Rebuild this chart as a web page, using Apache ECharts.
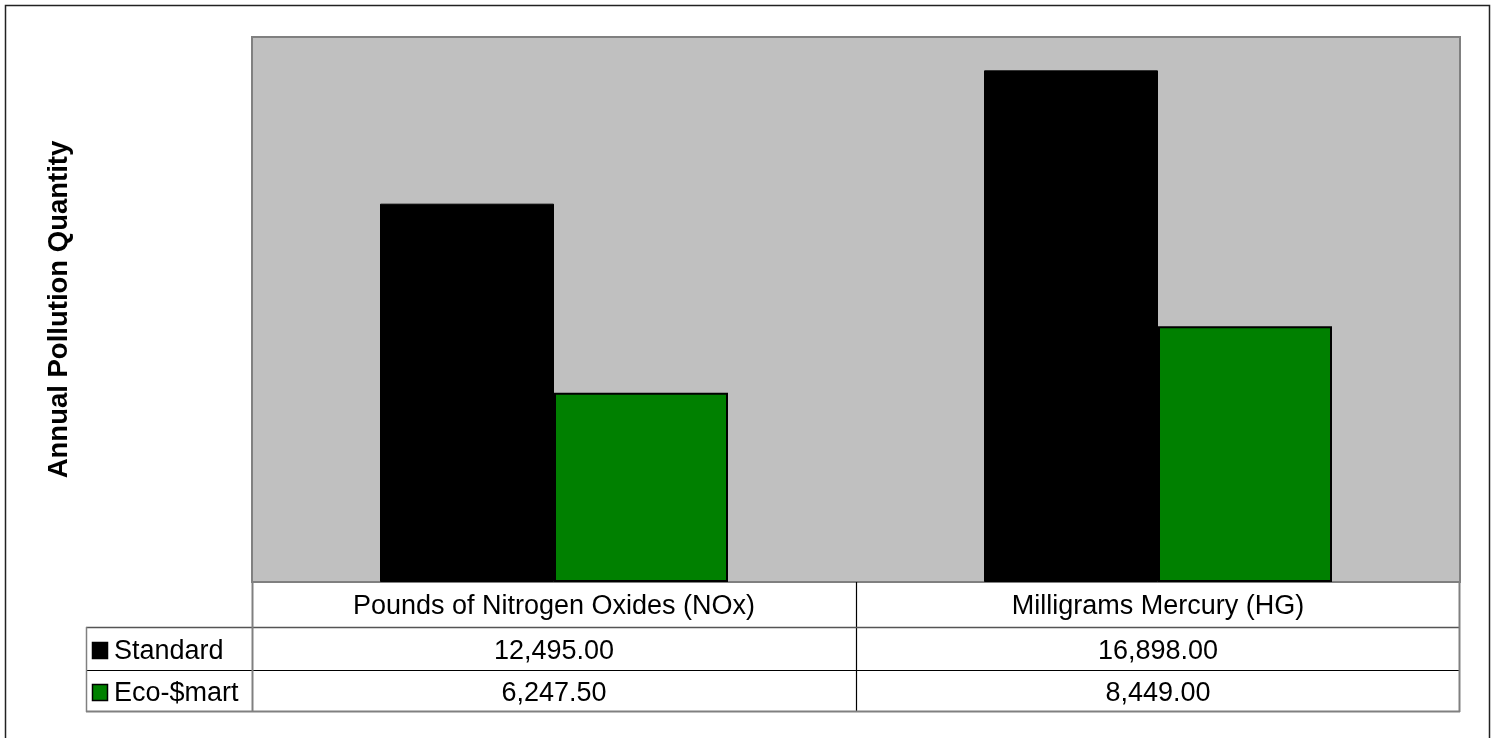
<!DOCTYPE html>
<html>
<head>
<meta charset="utf-8">
<script src="https://cdn.jsdelivr.net/npm/echarts@6/dist/echarts.min.js"></script>
<style>
html,body{margin:0;padding:0;background:#fff;}
#chart{width:1496px;height:738px;}
</style>
</head>
<body>
<div id="chart"></div>
<script>
const categories = ['Pounds of Nitrogen Oxides (NOx)', 'Milligrams Mercury (HG)'];
const seriesNames = ['Standard', 'Eco-$mart'];
const standardValues = [12495.00, 16898.00];
const ecoValues = [6247.50, 8449.00];
const seriesColors = ['#000000', '#008000'];
const yMin = 0, yMax = 18000;

const FONT = "'Liberation Sans', Arial, sans-serif";
const G = {left: 252, top: 37, width: 1208, height: 545};
const rowH = [45, 43, 41];
const legendLeft = 86;

const chart = echarts.init(document.getElementById('chart'));

function fmt(v){ return v.toLocaleString('en-US', {minimumFractionDigits: 2, maximumFractionDigits: 2}); }

function buildGraphic(){
  const g = [];
  const gx0 = G.left, gx1 = G.left + G.width;
  const y0 = G.top + G.height;
  const y1 = y0 + rowH[0], y2 = y1 + rowH[1], y3 = y2 + rowH[2];
  const colW = G.width / categories.length;
  g.push({type:'rect', shape:{x:5.5, y:5.5, width:1484, height:800}, style:{fill:'none', stroke:'#222', lineWidth:1.5}, silent:true, z:0});
  for (let i = 1; i < categories.length; i++) {
    const x = Math.round(gx0 + colW * i) + 0.5;
    g.push({type:'line', shape:{x1:x, y1:y0, x2:x, y2:y3}, style:{stroke:'#000', lineWidth:1.2}, z:5});
  }
  g.push({type:'line', shape:{x1:legendLeft, y1:y1+0.5, x2:gx1, y2:y1+0.5}, style:{stroke:'#555', lineWidth:1.5}, z:5});
  g.push({type:'line', shape:{x1:legendLeft, y1:y2+0.5, x2:gx1, y2:y2+0.5}, style:{stroke:'#000', lineWidth:1.2}, z:5});
  g.push({type:'line', shape:{x1:legendLeft, y1:y3+0.5, x2:gx1, y2:y3+0.5}, style:{stroke:'#808080', lineWidth:2}, z:5});
  g.push({type:'line', shape:{x1:gx0+0.5, y1:y0, x2:gx0+0.5, y2:y3+1}, style:{stroke:'#808080', lineWidth:2}, z:5});
  g.push({type:'line', shape:{x1:gx1-0.5, y1:y0, x2:gx1-0.5, y2:y3+1}, style:{stroke:'#808080', lineWidth:2}, z:5});
  g.push({type:'line', shape:{x1:legendLeft+0.5, y1:y1, x2:legendLeft+0.5, y2:y3+1}, style:{stroke:'#808080', lineWidth:1.5}, z:5});
  categories.forEach((c, i) => {
    g.push({type:'text', x: gx0 + colW*(i+0.5), y: (y0+y1)/2 + 2,
      style:{text:c, fontFamily:FONT, fontSize:27, fill:'#000', align:'center', verticalAlign:'middle'}, z:6});
  });
  const rows = [standardValues, ecoValues];
  const rowTops = [y1, y2];
  const rowBots = [y2, y3];
  rows.forEach((vals, r) => {
    const cy = (rowTops[r] + rowBots[r]) / 2 + 3;
    vals.forEach((v, i) => {
      g.push({type:'text', x: gx0 + colW*(i+0.5), y: cy,
        style:{text:fmt(v), fontFamily:FONT, fontSize:27, fill:'#000', align:'center', verticalAlign:'middle'}, z:6});
    });
    g.push({type:'rect', shape:{x:92.5, y:cy-9, width:15, height:16},
      style:{fill:seriesColors[r], stroke:'#000', lineWidth:1.5}, z:6});
    g.push({type:'text', x:114, y:cy,
      style:{text:seriesNames[r], fontFamily:FONT, fontSize:27, fill:'#000', align:'left', verticalAlign:'middle'}, z:6});
  });
  g.push({type:'text', x:59, y: G.top + G.height/2, rotation: Math.PI/2,
    style:{text:'Annual Pollution Quantity', fontFamily:FONT, fontSize:27.5, fontWeight:'bold', fill:'#000', align:'center', verticalAlign:'middle'}, z:6});
  return g;
}

chart.setOption({
  animation: false,
  backgroundColor: '#fff',
  grid: {left: G.left, top: G.top, width: G.width, height: G.height, show: true,
    backgroundColor: '#C0C0C0', borderColor: '#808080', borderWidth: 2},
  xAxis: {type:'category', data: categories, axisLabel:{show:false}, axisTick:{show:false}, axisLine:{show:false}},
  yAxis: {type:'value', min: yMin, max: yMax, axisLabel:{show:false}, axisTick:{show:false}, axisLine:{show:false}, splitLine:{show:false}},
  series: [
    {name: seriesNames[0], type:'bar', data: standardValues, barWidth: 174, barGap: '0%',
      itemStyle:{color: seriesColors[0], borderColor:'#000', borderWidth:1}},
    {name: seriesNames[1], type:'bar', data: ecoValues, barWidth: 174, barGap: '0%',
      itemStyle:{color: seriesColors[1], borderColor:'#000', borderWidth:2}}
  ],
  graphic: buildGraphic()
});
</script>
</body>
</html>
